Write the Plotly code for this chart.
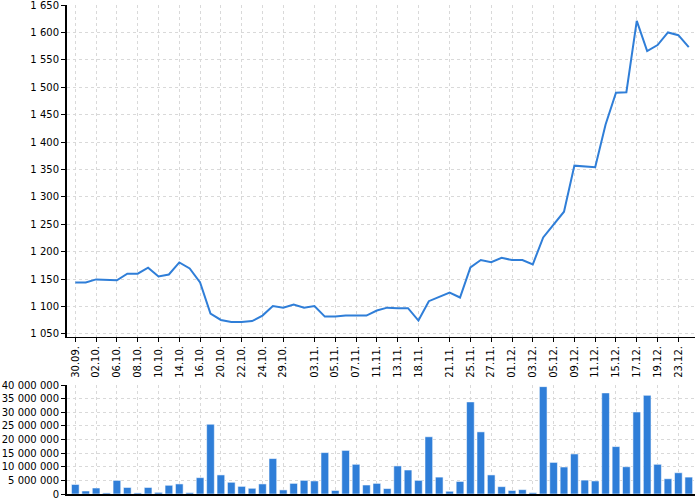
import plotly.graph_objects as go

dates = ["30.09.", "01.10.", "02.10.", "03.10.", "06.10.", "07.10.", "08.10.", "09.10.", "10.10.", "13.10.",
         "14.10.", "15.10.", "16.10.", "17.10.", "20.10.", "21.10.", "22.10.", "23.10.", "24.10.", "27.10.",
         "29.10.", "30.10.", "31.10.", "03.11.", "04.11.", "05.11.", "06.11.", "07.11.", "10.11.", "11.11.",
         "12.11.", "13.11.", "17.11.", "18.11.", "19.11.", "20.11.", "21.11.", "24.11.", "25.11.", "26.11.",
         "27.11.", "28.11.", "01.12.", "02.12.", "03.12.", "04.12.", "05.12.", "08.12.", "09.12.", "10.12.",
         "11.12.", "12.12.", "15.12.", "16.12.", "17.12.", "18.12.", "19.12.", "22.12.", "23.12.", "24.12."]

tick_labels = ["30.09.", "02.10.", "06.10.", "08.10.", "10.10.", "14.10.", "16.10.", "20.10.", "22.10.", "24.10.",
               "29.10.", "03.11.", "05.11.", "07.11.", "11.11.", "13.11.", "18.11.", "21.11.", "25.11.", "27.11.",
               "01.12.", "03.12.", "05.12.", "09.12.", "11.12.", "15.12.", "17.12.", "19.12.", "23.12."]

price = [1144, 1144, 1149.5, 1149, 1148, 1160, 1160, 1171, 1155, 1158.5,
         1180.5, 1169.5, 1144, 1087, 1075.6, 1072, 1072, 1073.5, 1083.5, 1101,
         1098, 1103.7, 1098, 1101, 1081.7, 1081.7, 1083.5, 1083.5, 1083.5, 1092.7,
         1098, 1097, 1097, 1074.4, 1109.8, 1117.7, 1125.6, 1116.5, 1171.3, 1184.8,
         1181, 1189, 1184.8, 1184.8, 1177, 1226, 1250.5, 1273, 1357, 1356,
         1354, 1432, 1490, 1491, 1621, 1566, 1577, 1600, 1595, 1573]

volume = [3500000, 1100000, 2200000, 400000, 5000000, 2400000, 400000, 2400000, 600000, 3200000,
          3700000, 500000, 6000000, 25600000, 7000000, 4300000, 2800000, 2100000, 3700000, 13000000,
          1500000, 3900000, 5000000, 4800000, 15200000, 1300000, 16000000, 10900000, 3300000, 3900000,
          2000000, 10300000, 8800000, 5000000, 21000000, 6200000, 1000000, 4600000, 33800000, 22800000,
          7000000, 2700000, 1300000, 1600000, 500000, 39400000, 11600000, 9900000, 14700000, 5100000,
          4800000, 37100000, 17400000, 10000000, 30100000, 36200000, 10900000, 5600000, 7800000, 6200000]

BLUE = "#2f7ed8"
GRID = "#d9d9d9"
FONT = dict(family="DejaVu Sans", size=10, color="#000000")

fig = go.Figure()
fig.add_trace(go.Scatter(x=dates, y=price, mode="lines", line=dict(color=BLUE, width=2),
                         xaxis="x", yaxis="y", showlegend=False))
fig.add_trace(go.Bar(x=dates, y=volume, marker=dict(color=BLUE, line=dict(color="rgba(255,255,255,0.55)", width=1)),
                     xaxis="x2", yaxis="y2", showlegend=False))

xr = [-0.8, 59.6]
common_grid = dict(showgrid=True, gridcolor=GRID, griddash="3px,3px", gridwidth=1,
                   zeroline=False, automargin=False, ticklabeloverflow="allow")
fig.update_layout(
    width=700, height=500,
    margin=dict(l=67, r=5, t=5, b=6, autoexpand=False),
    paper_bgcolor="white", plot_bgcolor="white",
    separators=". ",
    font=FONT,
    bargap=0.26,
    xaxis=dict(domain=[0, 1], anchor="y", type="category", range=xr,
               tickmode="array", tickvals=tick_labels, ticktext=tick_labels,
               tickangle=-90, ticks="outside", ticklen=4, tickcolor="#000",
               showline=True, linecolor="#000", linewidth=1,
               tickfont=FONT, **common_grid),
    yaxis=dict(domain=[0.3211, 1], anchor="x", range=[1044.5, 1650],
               tickmode="linear", tick0=1050, dtick=50, tickformat=",d",
               ticks="outside", ticklen=4, tickcolor="#000",
               showline=True, linecolor="#000", linewidth=2,
               tickfont=FONT, **common_grid),
    xaxis2=dict(domain=[0, 1], anchor="y2", type="category", range=xr,
                tickmode="array", tickvals=tick_labels, showticklabels=False, ticks="",
                showline=True, linecolor="#000", linewidth=2, **common_grid),
    yaxis2=dict(domain=[0, 0.2229], anchor="x2", range=[0, 40000000],
                tickmode="linear", tick0=0, dtick=5000000, tickformat=",d",
                ticks="outside", ticklen=4, tickcolor="#000",
                showline=True, linecolor="#000", linewidth=2,
                tickfont=FONT, **common_grid),
)

fig.write_html("out.html", config={"displayModeBar": False},
               post_script="document.body.style.margin='0';document.body.style.overflow='hidden';")
